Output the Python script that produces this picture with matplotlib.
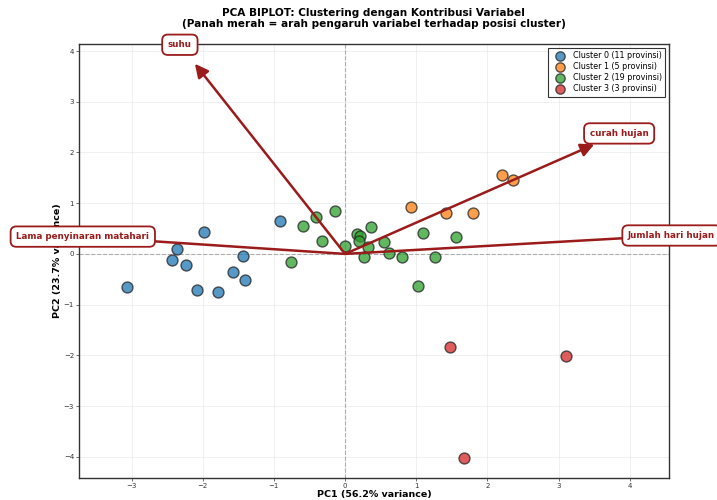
import matplotlib
matplotlib.use("Agg")
import matplotlib.pyplot as plt
import numpy as np

# ---- data ----
cluster_names = ["Cluster 0 (11 provinsi)", "Cluster 1 (5 provinsi)",
                 "Cluster 2 (19 provinsi)", "Cluster 3 (3 provinsi)"]
cluster_colors = ["#1f77b4", "#ff7f0e", "#2ca02c", "#d62728"]

c0_pc1 = [-3.07, -2.36, -2.43, -2.23, -1.98, -2.08, -1.79, -1.57, -1.44, -1.41, -0.91]
c0_pc2 = [-0.66, 0.09, -0.13, -0.21, 0.43, -0.71, -0.75, -0.36, -0.05, -0.52, 0.64]

c1_pc1 = [0.93, 1.42, 1.80, 2.21, 2.36]
c1_pc2 = [0.93, 0.81, 0.81, 1.56, 1.45]

c2_pc1 = [-0.76, -0.59, -0.41, -0.32, -0.14, 0.00, 0.17, 0.21, 0.20, 0.37,
          0.32, 0.26, 0.55, 0.62, 0.80, 1.10, 1.27, 1.56, 1.03]
c2_pc2 = [-0.15, 0.55, 0.72, 0.26, 0.85, 0.15, 0.39, 0.36, 0.26, 0.54,
          0.14, -0.07, 0.23, 0.01, -0.07, 0.42, -0.07, 0.33, -0.63]

c3_pc1 = [1.47, 3.10, 1.67]
c3_pc2 = [-1.83, -2.01, -4.02]

var_names = ["suhu", "curah hujan", "Jumlah hari hujan", "Lama penyinaran matahari"]
load_pc1 = [-2.11, 3.50, 4.17, -3.35]
load_pc2 = [3.75, 2.16, 0.33, 0.31]
label_scale = 1.1

xs = [c0_pc1, c1_pc1, c2_pc1, c3_pc1]
ys = [c0_pc2, c1_pc2, c2_pc2, c3_pc2]

# ---- plot ----
fig = plt.figure(figsize=(7.17, 5.0), dpi=100)
ax = fig.add_axes([0.110, 0.044, 0.823, 0.868])

for x, y, c, n in zip(xs, ys, cluster_colors, cluster_names):
    ax.scatter(x, y, s=62, c=c, alpha=0.75, edgecolors="#222222",
               linewidths=1.0, label=n, zorder=3)

ax.axhline(0, color="grey", linestyle="--", linewidth=0.8, alpha=0.6, zorder=1)
ax.axvline(0, color="grey", linestyle="--", linewidth=0.8, alpha=0.6, zorder=1)

arrow_color = "#9b1b1b"
for name, lx, ly in zip(var_names, load_pc1, load_pc2):
    ax.annotate("", xy=(lx, ly), xytext=(0, 0),
                arrowprops=dict(arrowstyle="-|>", color=arrow_color, lw=1.8,
                                mutation_scale=20, shrinkA=0, shrinkB=0),
                zorder=4)
    ax.text(lx * label_scale, ly * label_scale, name, color=arrow_color,
            fontsize=6.3, fontweight="bold", ha="center", va="center", zorder=5,
            bbox=dict(boxstyle="round,pad=0.65", facecolor="white",
                      edgecolor=arrow_color, linewidth=1.3))

ax.set_xlim(-3.74, 4.55)
ax.set_ylim(-4.42, 4.14)
ax.set_xticks([-3, -2, -1, 0, 1, 2, 3, 4])
ax.set_yticks([-4, -3, -2, -1, 0, 1, 2, 3, 4])
ax.tick_params(labelsize=5, length=2, width=0.5, pad=1.5, colors="#333333")
ax.grid(True, color="#dddddd", linewidth=0.5, alpha=0.6)
ax.set_axisbelow(True)
for s in ax.spines.values():
    s.set_color("#333333")
    s.set_linewidth(1.0)

ax.set_xlabel("PC1 (56.2% variance)", fontsize=6.8, fontweight="bold", labelpad=1)
ax.set_ylabel("PC2 (23.7% variance)", fontsize=6.8, fontweight="bold", labelpad=1)
ax.set_title("PCA BIPLOT: Clustering dengan Kontribusi Variabel\n"
             "(Panah merah = arah pengaruh variabel terhadap posisi cluster)",
             fontsize=7.6, fontweight="bold", pad=12, linespacing=1.15)

leg = ax.legend(loc="upper right", fontsize=5.8, frameon=True, fancybox=False,
                edgecolor="black", handletextpad=0.6, borderpad=0.4,
                labelspacing=0.25, markerscale=0.85)
leg.get_frame().set_linewidth(0.8)

fig.savefig("out.png", dpi=100)
